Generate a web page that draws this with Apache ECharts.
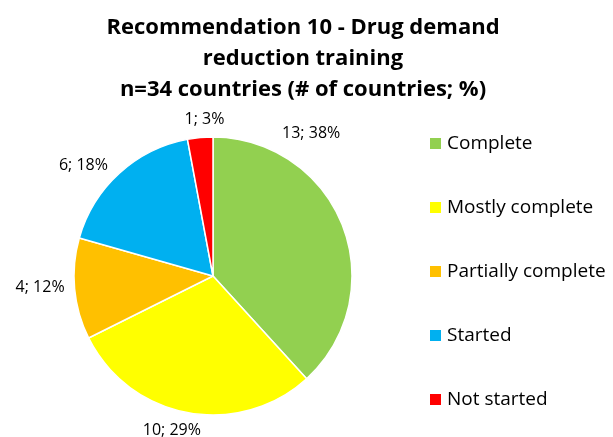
<!DOCTYPE html>
<html><head><meta charset="utf-8">
<script src="https://cdn.jsdelivr.net/npm/echarts@6/dist/echarts.min.js"></script>
<style>html,body{margin:0;padding:0;background:#fff}#c{width:613px;height:437px}</style>
</head><body><div id="c"></div>
<script>
const categories = ["Complete", "Mostly complete", "Partially complete", "Started", "Not started"];
const counts = [13, 10, 4, 6, 1];
const percents = [38, 29, 12, 18, 3];
const colors = ["#92D050", "#FFFF00", "#FFC000", "#00B0F0", "#FF0000"];
const titleLines = ["Recommendation 10 - Drug demand", "reduction training", "n=34 countries (# of countries; %)"];
// label nudges (style only)
const labelShift = [[-73, -89], [20, 10], [3, -2], [-1, -2], [30, -10]];

const chart = echarts.init(document.getElementById('c'));
const font = "'Open Sans', 'Noto Sans', sans-serif";
chart.setOption({
  animation: false,
  title: {
    text: titleLines.join("\n"),
    left: 298, top: 7, textAlign: 'center',
    textStyle: { fontFamily: font, fontSize: 22, fontWeight: 'bold', color: '#000', lineHeight: 31 }
  },
  legend: {
    orient: 'vertical', left: 423, top: 129, itemGap: 45,
    itemWidth: 13, itemHeight: 13, icon: 'rect',
    textStyle: { fontFamily: font, fontSize: 19, color: '#000' },
    data: categories
  },
  series: [{
    type: 'pie',
    center: [213, 276], radius: 139,
    startAngle: 90, clockwise: true,
    itemStyle: { borderColor: '#fff', borderWidth: 1.5 },
    label: {
      show: true, position: 'outside',
      fontFamily: font, fontSize: 16, color: '#000',
      formatter: p => counts[p.dataIndex] + '; ' + percents[p.dataIndex] + '%'
    },
    labelLine: { show: false, length: 8, length2: 0 },
    labelLayout: p => ({ dx: labelShift[p.dataIndex][0], dy: labelShift[p.dataIndex][1] }),
    data: categories.map((c, i) => ({ name: c, value: counts[i], itemStyle: { color: colors[i] } }))
  }]
});
</script></body></html>
